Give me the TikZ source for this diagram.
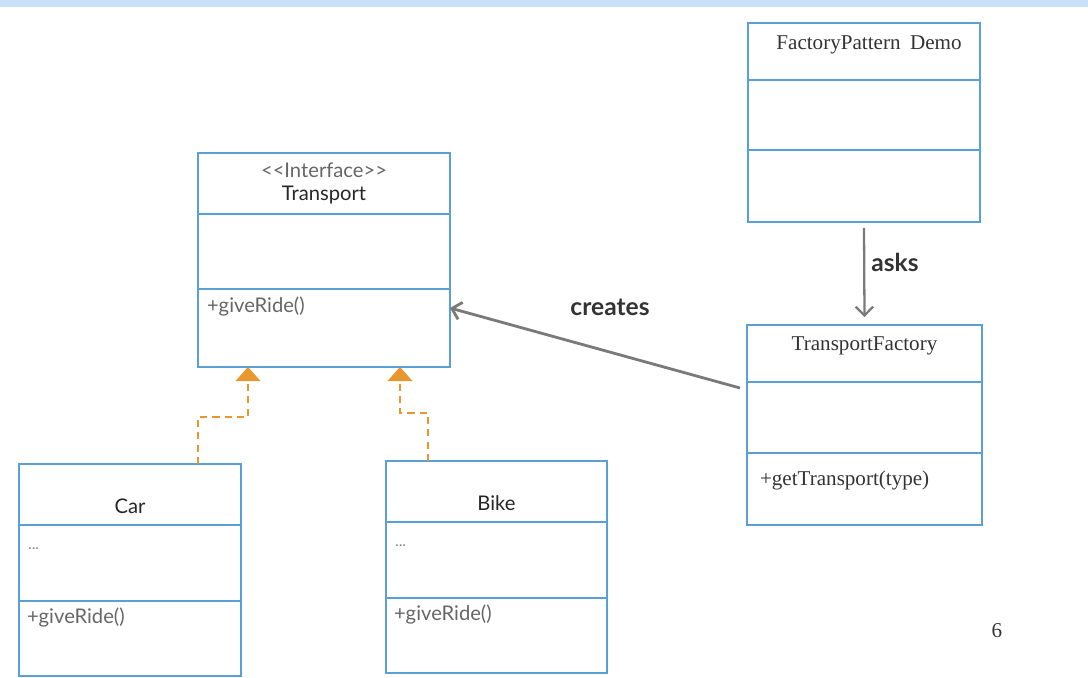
\documentclass[tikz,border=0pt]{standalone}
\usepackage{fontspec}
\setmainfont{Liberation Serif}
\setsansfont{Lato}
\usetikzlibrary{positioning,arrows.meta}

\definecolor{umlblue}{HTML}{5A9FD6}
\definecolor{realorange}{HTML}{E8962E}
\definecolor{arrowgrey}{HTML}{7A7A7A}
\definecolor{topband}{HTML}{CADFF8}

\begin{document}
\begin{tikzpicture}[x=0.02cm, y=-0.02cm, node distance=0pt,
  every node/.style={outer sep=0pt},
  classpart/.style={draw=umlblue, line width=1.3pt, minimum width=#1, inner sep=0pt},
  lato/.style={font=\sffamily\fontsize{11.5}{13.5}\selectfont, text=black!85},
  member/.style={font=\sffamily\fontsize{11.5}{13}\selectfont, text=black!60, inner sep=0pt, anchor=base west},
  times/.style={font=\rmfamily\fontsize{12}{14}\selectfont, text=black!80},
  linklabel/.style={font=\sffamily\bfseries\fontsize{14}{16}\selectfont, text=black!80},
  realize/.style={draw=realorange, line width=1.1pt, dash pattern=on 4pt off 3pt, -{Triangle[width=14pt,length=8pt]}},
  assoc/.style={draw=arrowgrey, line width=1.6pt, -{Straight Barb[length=5pt,width=10pt]}}]

  \useasboundingbox (0,0) rectangle (1088,677);
  \fill[topband] (0,0) rectangle (1088,7);

  % interface Transport
  \node[classpart=5.04cm, minimum height=1.22cm] (transporttitle) at (324,183.5) {};
  \node[classpart=5.04cm, minimum height=1.5cm, below=of transporttitle] (transportattrs) {};
  \node[classpart=5.04cm, minimum height=1.56cm, below=of transportattrs] (transportops) {};
  \node[lato, align=center] (transportname) at (transporttitle.center) {{\color{black!60}<{}<Interface>{}>}\\Transport};
  \node[member] (transportride) at ([shift={(0.18cm,-0.48cm)}]transportops.north west) {+giveRide()};

  % Car
  \node[classpart=4.44cm, minimum height=1.22cm] (cartitle) at (130,494.5) {};
  \node[classpart=4.44cm, minimum height=1.52cm, below=of cartitle] (carattrs) {};
  \node[classpart=4.44cm, minimum height=1.5cm, below=of carattrs] (carops) {};
  \node[lato] (carname) at ([yshift=-0.23cm]cartitle.center) {Car};
  \node[member, text=black!45, font=\sffamily\small] (cardots) at ([shift={(0.18cm,-0.48cm)}]carattrs.north west) {...};
  \node[member] (carride) at ([shift={(0.16cm,-0.46cm)}]carops.north west) {+giveRide()};

  % Bike
  \node[classpart=4.42cm, minimum height=1.22cm] (biketitle) at (496.5,491.5) {};
  \node[classpart=4.42cm, minimum height=1.52cm, below=of biketitle] (bikeattrs) {};
  \node[classpart=4.42cm, minimum height=1.5cm, below=of bikeattrs] (bikeops) {};
  \node[lato] (bikename) at ([yshift=-0.23cm]biketitle.center) {Bike};
  \node[member, text=black!45, font=\sffamily\small] (bikedots) at ([shift={(0.18cm,-0.48cm)}]bikeattrs.north west) {...};
  \node[member] (bikeride) at ([shift={(0.16cm,-0.46cm)}]bikeops.north west) {+giveRide()};

  % FactoryPattern Demo
  \node[classpart=4.64cm, minimum height=1.14cm] (demotitle) at (864,51.5) {};
  \node[classpart=4.64cm, minimum height=1.4cm, below=of demotitle] (demoattrs) {};
  \node[classpart=4.64cm, minimum height=1.44cm, below=of demoattrs] (demoops) {};
  \node[times] (demoname) at ([shift={(0.1cm,0.13cm)}]demotitle.center) {FactoryPattern\hspace{0.45em}Demo};

  % TransportFactory
  \node[classpart=4.7cm, minimum height=1.14cm] (factorytitle) at (864.5,353.5) {};
  \node[classpart=4.7cm, minimum height=1.42cm, below=of factorytitle] (factoryattrs) {};
  \node[classpart=4.7cm, minimum height=1.44cm, below=of factoryattrs] (factoryops) {};
  \node[times] (factoryname) at ([yshift=0.15cm]factorytitle.center) {TransportFactory};
  \node[times, inner sep=0pt, anchor=base west] (factoryget) at ([shift={(0.26cm,-0.66cm)}]factoryops.north west) {+getTransport(type)};

  % realisation
  \coordinate (carbend) at (198,417);
  \coordinate (bikebend) at (428,413);
  \draw[realize] (cartitle.north -| carbend) -- (carbend) -| (transportops.south -| 248,0);
  \draw[realize] (biketitle.north -| bikebend) -- (bikebend) -| (transportops.south -| 400,0);

  % associations
  \draw[assoc] ([shift={(-0.14cm,-0.12cm)}]factoryattrs.north west) -- ([yshift=0.4cm]transportops.east);
  \draw[assoc, line width=1.3pt] ([yshift=-0.12cm]demoops.south) -- ([yshift=0.16cm]factorytitle.north);
  \node[linklabel] (createslabel) at (610,307) {creates};
  \node[linklabel] (askslabel) at (895,262) {asks};

  \node[times] (pagenum) at (997,631) {6};
\end{tikzpicture}
\end{document}
